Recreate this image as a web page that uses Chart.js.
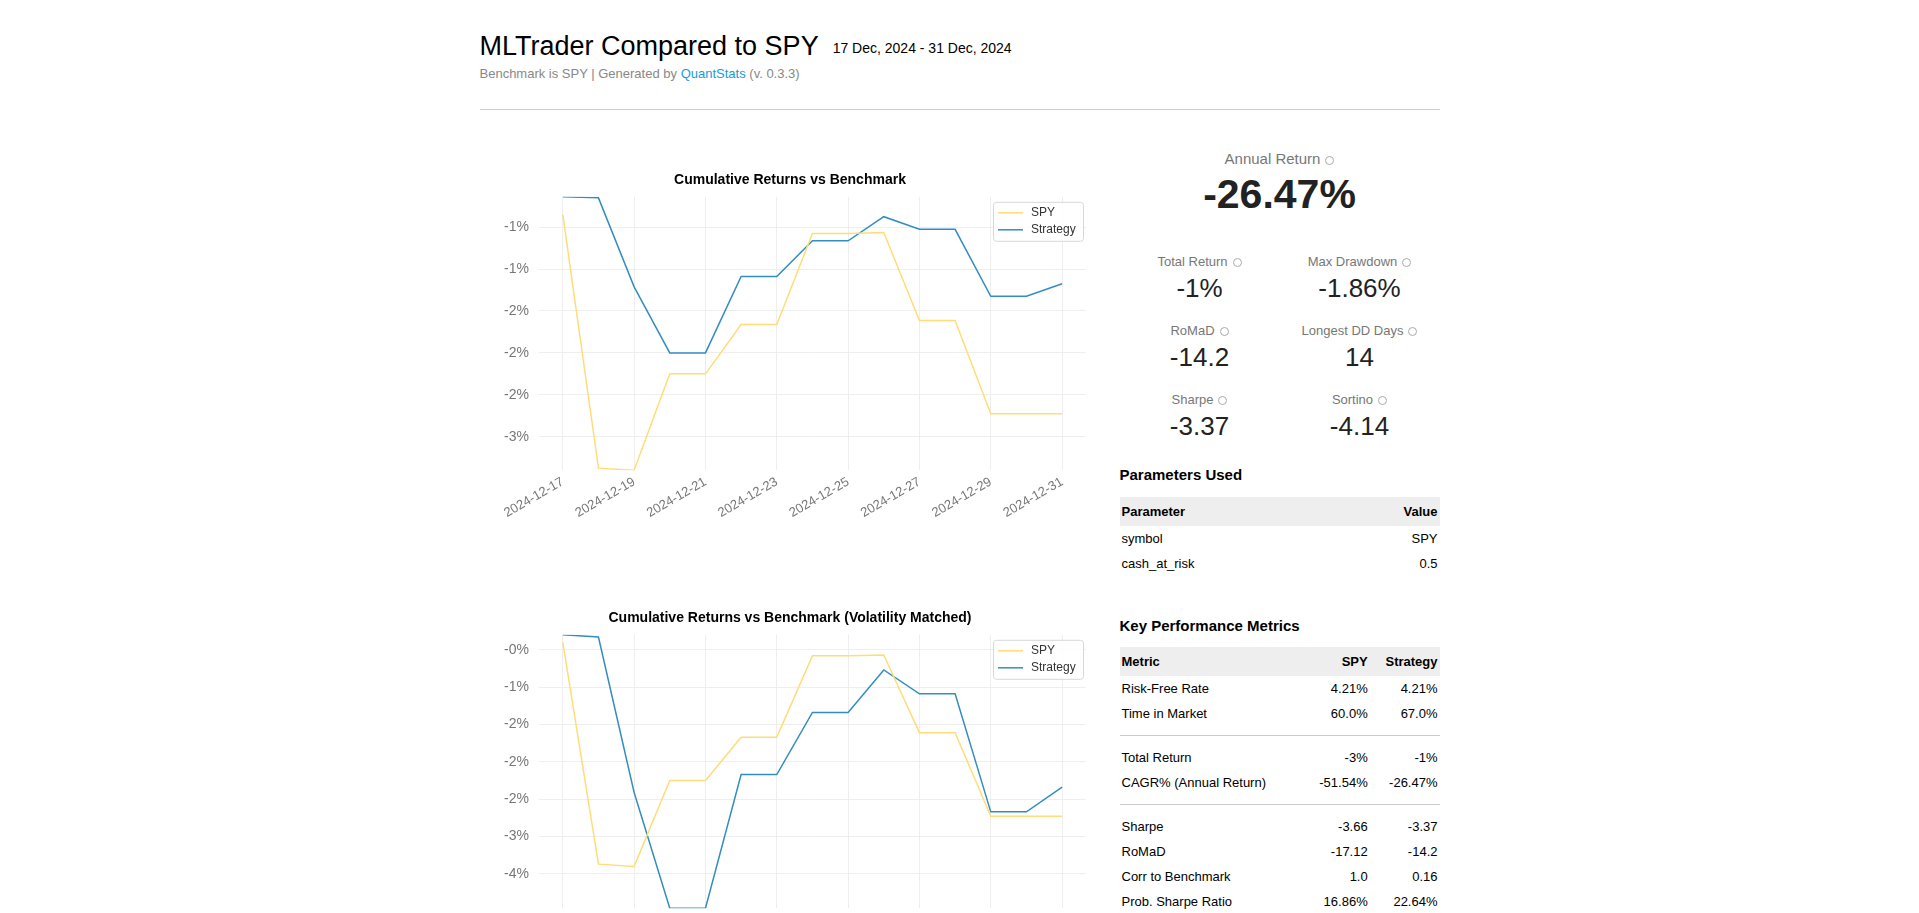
<!DOCTYPE html>
<html>
<head>
<meta charset="utf-8">
<script src="https://cdn.jsdelivr.net/npm/chart.js@4.4.1/dist/chart.umd.min.js"></script>
<style>
  body { margin: 0; font-family: Arial, "Liberation Sans", sans-serif; color: #000; background: #fff; }
  .page { position: relative; width: 960px; margin: 0 auto; height: 1300px; }
  h1 { position: absolute; top: 31px; left: 0; margin: 0; font-size: 27px; font-weight: normal; }
  h1 small { font-size: 14px; margin-left: 14px; vertical-align: middle; }
  .sub { position: absolute; top: 66px; left: 0; font-size: 13px; color: #888; }
  .sub a { color: #1a9bd7; text-decoration: none; }
  hr.top { position: absolute; top: 109px; left: 0; width: 960px; margin: 0; border: 0; border-top: 1px solid #ccc; }
  .chart { position: absolute; left: 0; width: 610px; height: 365px; }
  .right { position: absolute; left: 640px; width: 320px; top: 0; }
  .big { position: absolute; width: 320px; text-align: center; }
  .lab { color: #777; font-size: 13px; }
  .i { display: inline-block; width: 7px; height: 7px; border: 1px solid #aaa; border-radius: 50%; margin-left: 5px; vertical-align: middle; }
  .cell { position: absolute; width: 160px; text-align: center; }
  .cell .v { font-size: 26px; color: #222; margin-top: 4px; }
  h3 { position: absolute; margin: 0; font-size: 15px; left: 0; }
  table { position: absolute; left: 0; width: 320px; border-collapse: collapse; font-size: 13px; }
  th { background: #eee; text-align: left; height: 29px; padding: 0 2px; }
  td { height: 25px; padding: 0 2px; }
  .r { text-align: right; }
  tr.sep td { height: 19px; padding: 0; }
  tr.sep td div { border-top: 1px solid #ccc; }
</style>
</head>
<body>
<div class="page">
  <h1>MLTrader Compared to SPY<small>17 Dec, 2024 - 31 Dec, 2024</small></h1>
  <div class="sub">Benchmark is SPY | Generated by <a href="#">QuantStats</a> (v. 0.3.3)</div>
  <hr class="top">
  <div class="chart" style="top:160px"><canvas id="c1"></canvas></div>
  <div class="chart" style="top:598px"><canvas id="c2"></canvas></div>

  <div class="right">
    <div class="big" style="top:150px"><div class="lab" style="font-size:15px">Annual Return<span class="i"></span></div>
      <div style="font-size:41px;font-weight:bold;color:#222;margin-top:4px">-26.47%</div></div>
    <div class="cell" style="left:0;top:254px"><div class="lab">Total Return<span class="i"></span></div><div class="v">-1%</div></div>
    <div class="cell" style="left:160px;top:254px"><div class="lab">Max Drawdown<span class="i"></span></div><div class="v">-1.86%</div></div>
    <div class="cell" style="left:0;top:323px"><div class="lab">RoMaD<span class="i"></span></div><div class="v">-14.2</div></div>
    <div class="cell" style="left:160px;top:323px"><div class="lab">Longest DD Days<span class="i"></span></div><div class="v">14</div></div>
    <div class="cell" style="left:0;top:392px"><div class="lab">Sharpe<span class="i"></span></div><div class="v">-3.37</div></div>
    <div class="cell" style="left:160px;top:392px"><div class="lab">Sortino<span class="i"></span></div><div class="v">-4.14</div></div>

    <h3 style="top:466px">Parameters Used</h3>
    <table style="top:497px">
      <tr><th>Parameter</th><th class="r">Value</th></tr>
      <tr><td>symbol</td><td class="r">SPY</td></tr>
      <tr><td>cash_at_risk</td><td class="r">0.5</td></tr>
    </table>

    <h3 style="top:617px">Key Performance Metrics</h3>
    <table style="top:647px">
      <tr><th>Metric</th><th class="r">SPY</th><th class="r">Strategy</th></tr>
      <tr><td>Risk-Free Rate</td><td class="r">4.21%</td><td class="r">4.21%</td></tr>
      <tr><td>Time in Market</td><td class="r">60.0%</td><td class="r">67.0%</td></tr>
      <tr class="sep"><td colspan="3"><div></div></td></tr>
      <tr><td>Total Return</td><td class="r">-3%</td><td class="r">-1%</td></tr>
      <tr><td>CAGR% (Annual Return)</td><td class="r">-51.54%</td><td class="r">-26.47%</td></tr>
      <tr class="sep"><td colspan="3"><div></div></td></tr>
      <tr><td>Sharpe</td><td class="r">-3.66</td><td class="r">-3.37</td></tr>
      <tr><td>RoMaD</td><td class="r">-17.12</td><td class="r">-14.2</td></tr>
      <tr><td>Corr to Benchmark</td><td class="r">1.0</td><td class="r">0.16</td></tr>
      <tr><td>Prob. Sharpe Ratio</td><td class="r">16.86%</td><td class="r">22.64%</td></tr>
    </table>
  </div>
</div>
<script>
const dates = ["2024-12-17", "2024-12-18", "2024-12-19", "2024-12-20", "2024-12-21", "2024-12-22", "2024-12-23",
  "2024-12-24", "2024-12-25", "2024-12-26", "2024-12-27", "2024-12-28", "2024-12-29", "2024-12-30", "2024-12-31"];

// cumulative returns, %
const spyCum = [-0.68, -3.10, -3.12, -2.20, -2.20, -1.73, -1.73, -0.86, -0.86, -0.85, -1.69, -1.69, -2.58, -2.58, -2.58];
const stratCum = [-0.51, -0.52, -1.37, -2.00, -2.00, -1.27, -1.27, -0.93, -0.93, -0.70, -0.82, -0.82, -1.46, -1.46, -1.34];
const cumTicks = [-0.8, -1.2, -1.6, -2.0, -2.4, -2.8];
const cumTickLabels = ["-1%", "-1%", "-2%", "-2%", "-2%", "-3%"];

// volatility matched
const spyVol = [-0.15, -3.12, -3.15, -2.00, -2.00, -1.42, -1.42, -0.33, -0.33, -0.32, -1.36, -1.36, -2.48, -2.48, -2.48];
const stratVol = [-0.05, -0.08, -2.16, -3.71, -3.71, -1.92, -1.92, -1.09, -1.09, -0.52, -0.84, -0.84, -2.42, -2.42, -2.09];
const volTicks = [-0.25, -0.75, -1.25, -1.75, -2.25, -2.75, -3.25];
const volTickLabels = ["-0%", "-1%", "-2%", "-2%", "-2%", "-3%", "-4%"];

const dateTicks = [0, 2, 4, 6, 8, 10, 12, 14];

const insideLegend = {
  id: "insideLegend",
  afterDraw(chart) {
    const { ctx, chartArea } = chart;
    const w = 90, h = 39, x = chartArea.right - w - 3, y = chartArea.top + 5;
    ctx.save();
    ctx.fillStyle = "rgba(255,255,255,0.85)";
    ctx.strokeStyle = "#d8d8d8";
    ctx.lineWidth = 1;
    ctx.beginPath();
    ctx.roundRect(x + 0.5, y + 0.5, w, h, 3);
    ctx.fill();
    ctx.stroke();
    ctx.font = "12px Arial";
    ctx.textBaseline = "middle";
    chart.data.datasets.forEach((ds, i) => {
      const ly = y + 11 + i * 17;
      ctx.strokeStyle = ds.borderColor;
      ctx.lineWidth = 1.5;
      ctx.beginPath();
      ctx.moveTo(x + 5, ly);
      ctx.lineTo(x + 30, ly);
      ctx.stroke();
      ctx.fillStyle = "#333";
      ctx.fillText(ds.label, x + 38, ly);
    });
    ctx.restore();
  }
};

function makeChart(id, title, spy, strat, ticks, tickLabels, min, max) {
  const pts = arr => arr.map((v, i) => ({ x: i, y: v }));
  return new Chart(document.getElementById(id), {
    type: "line",
    data: {
      datasets: [
        { label: "SPY", data: pts(spy), borderColor: "#fedd78", borderWidth: 1.5, pointRadius: 0, tension: 0 },
        { label: "Strategy", data: pts(strat), borderColor: "#348dc1", borderWidth: 1.5, pointRadius: 0, tension: 0 }
      ]
    },
    options: {
      responsive: true,
      maintainAspectRatio: false,
      animation: false,
      layout: { padding: { left: 14, right: 4, top: 0 } },
      plugins: {
        legend: { display: false },
        tooltip: { enabled: false },
        title: { display: true, text: title, color: "#000", font: { family: "Arial", size: 14, weight: "bold" }, padding: { top: 12, bottom: 8 } }
      },
      scales: {
        x: {
          type: "linear", min: -0.67, max: 14.67,
          afterBuildTicks: ax => { ax.ticks = dateTicks.map(v => ({ value: v })); },
          ticks: { callback: v => dates[v], color: "#777", font: { family: "Arial", size: 13 }, maxRotation: 30, minRotation: 30, padding: 4 },
          grid: { color: "#eee", drawTicks: false },
          border: { display: false }
        },
        y: {
          min, max,
          afterBuildTicks: ax => { ax.ticks = ticks.map(v => ({ value: v })); },
          ticks: { callback: (v, i) => tickLabels[i], color: "#777", font: { family: "Arial", size: 14 }, padding: 10 },
          grid: { color: "#eee", drawTicks: false },
          border: { display: false }
        }
      }
    },
    plugins: [insideLegend]
  });
}

makeChart("c1", "Cumulative Returns vs Benchmark", spyCum, stratCum, cumTicks, cumTickLabels, -3.12, -0.51);
makeChart("c2", "Cumulative Returns vs Benchmark (Volatility Matched)", spyVol, stratVol, volTicks, volTickLabels, -3.71, -0.05);
</script>
</body>
</html>
